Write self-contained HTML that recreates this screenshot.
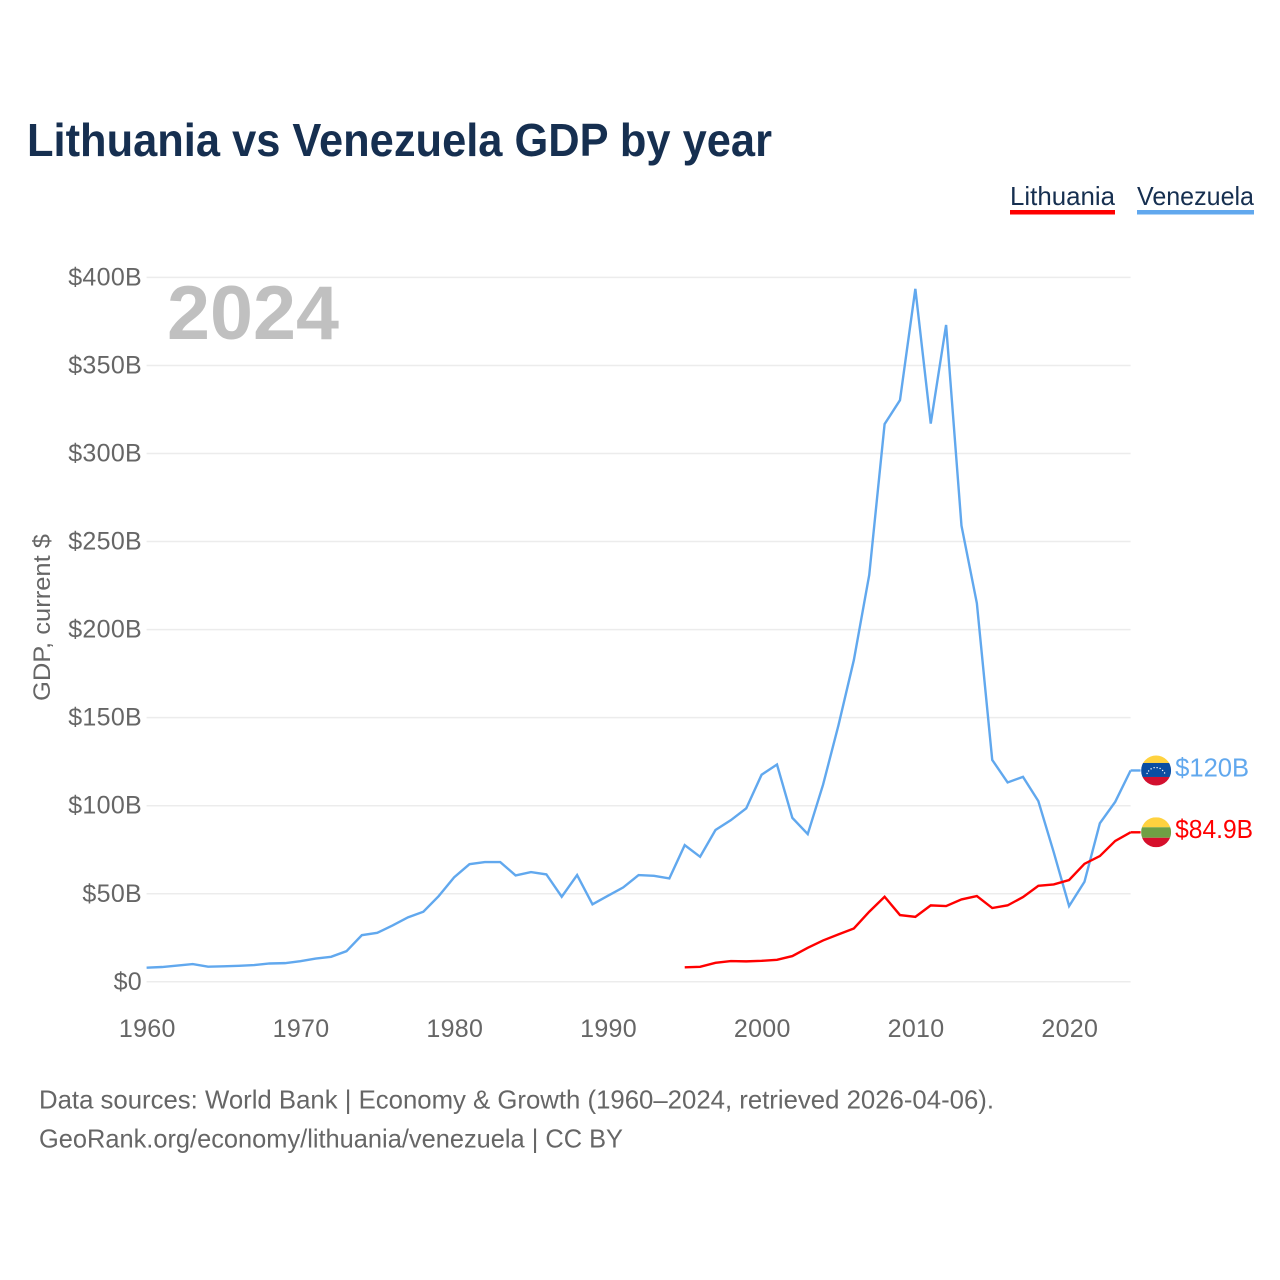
<!DOCTYPE html>
<html lang="en">
<head>
<meta charset="utf-8">
<title>Lithuania vs Venezuela GDP by year</title>
<style>
html,body{margin:0;padding:0;background:#fff;width:1280px;height:1280px;overflow:hidden}
svg{display:block}
text{font-family:"Liberation Sans",sans-serif}
.tick{font-size:25px;fill:#666;letter-spacing:.3px}
.foot{font-size:26px;fill:#666}
</style>
</head>
<body>
<svg id="chart" xmlns="http://www.w3.org/2000/svg" width="1280" height="1280" viewBox="0 0 1280 1280">
  <rect width="1280" height="1280" fill="#fff"/>
  <text x="27" y="155.8" font-size="46" font-weight="700" fill="#162f50" textLength="745" lengthAdjust="spacingAndGlyphs">Lithuania vs Venezuela GDP by year</text>

  <g>
    <g>
      <text x="1010" y="205" font-size="26" fill="#162f50" textLength="105" lengthAdjust="spacingAndGlyphs">Lithuania</text>
      <rect x="1010" y="210" width="105" height="4.5" fill="#ff0000"/>
    </g>
    <g>
      <text x="1137" y="205" font-size="26" fill="#162f50" textLength="117" lengthAdjust="spacingAndGlyphs">Venezuela</text>
      <rect x="1137" y="210" width="117" height="4.5" fill="#61a8ee"/>
    </g>
  </g>

  <g id="grid"></g>
  <g id="yticks"></g>
  <g id="xticks"></g>

  <text x="167" y="339" font-size="76" font-weight="700" fill="#c0c0c0" textLength="172" lengthAdjust="spacingAndGlyphs">2024</text>
  <text transform="translate(50,617.5) rotate(-90)" text-anchor="middle" font-size="24.5" fill="#666" textLength="167" lengthAdjust="spacingAndGlyphs">GDP, current $</text>

  <polyline id="line-venezuela" fill="none" stroke="#61a8ee" stroke-width="2.4" stroke-linejoin="miter"/>
  <polyline id="line-lithuania" fill="none" stroke="#ff0000" stroke-width="2.4" stroke-linejoin="miter"/>

  <defs>
    <clipPath id="flag-clip"><circle cx="0" cy="0" r="15"/></clipPath>
  </defs>

  <g id="end-venezuela">
    <line x1="0" x2="10" y1="0" y2="0" stroke="#61a8ee" stroke-width="2.4"/>
    <g transform="translate(25.5,0)" clip-path="url(#flag-clip)">
      <rect x="-15" y="-15" width="30" height="7.5" fill="#ffd23f"/>
      <rect x="-15" y="-7.5" width="30" height="14" fill="#0b4ea2"/>
      <rect x="-15" y="6.5" width="30" height="8.5" fill="#d2102f"/>
      <g fill="#fff">
        <circle cx="-9" cy="3" r=".7"/><circle cx="-7.5" cy=".5" r=".7"/><circle cx="-5" cy="-1.6" r=".7"/><circle cx="-2" cy="-2.8" r=".7"/><circle cx="1" cy="-2.8" r=".7"/><circle cx="4" cy="-2" r=".7"/><circle cx="6.5" cy="0" r=".7"/><circle cx="8.5" cy="2.5" r=".7"/>
      </g>
    </g>
    <text x="44.5" y="5.8" font-size="26" fill="#61a8ee" textLength="74" lengthAdjust="spacingAndGlyphs">$120B</text>
  </g>
  <g id="end-lithuania">
    <line x1="0" x2="10" y1="0" y2="0" stroke="#ff0000" stroke-width="2.4"/>
    <g transform="translate(25.5,0)" clip-path="url(#flag-clip)">
      <rect x="-15" y="-15" width="30" height="10" fill="#ffd23f"/>
      <rect x="-15" y="-5" width="30" height="10.5" fill="#6fa044"/>
      <rect x="-15" y="5.5" width="30" height="9.5" fill="#d60f2b"/>
    </g>
    <text x="44.5" y="5.8" font-size="26" fill="#ff0000" textLength="78" lengthAdjust="spacingAndGlyphs">$84.9B</text>
  </g>

  <text class="foot" x="39" y="1108.5" textLength="955" lengthAdjust="spacingAndGlyphs">Data sources: World Bank | Economy &amp; Growth (1960–2024, retrieved 2026-04-06).</text>
  <text class="foot" x="39" y="1147.5" textLength="584" lengthAdjust="spacingAndGlyphs">GeoRank.org/economy/lithuania/venezuela | CC BY</text>
</svg>
<script>
var venezuelaStartYear = 1960;
var lithuaniaStartYear = 1995;
var venezuelaValues = [8.0,8.4,9.2,10.05,8.6,8.8,9.1,9.5,10.4,10.6,11.7,13.2,14.2,17.4,26.5,27.8,32,36.6,39.8,48.7,59.3,66.8,68,68,60.4,62.3,61,48.3,60.6,44,48.8,53.6,60.6,60.2,58.7,77.6,71,86.2,91.8,98.5,117.6,123.4,93.1,83.9,112,145.7,182.7,231,316.7,330.3,393.5,317,373,259,215,126,113.2,116.4,102.6,73.6,43,56.8,90,102.2,120];
var lithuaniaValues = [8.2,8.5,10.8,11.75,11.6,11.9,12.5,14.6,19.3,23.5,26.9,30.3,39.8,48.3,37.9,36.9,43.4,43,46.8,48.7,41.9,43.4,48.1,54.5,55.3,57.8,67,71.4,80,84.9];
var yTickValues = [0,50,100,150,200,250,300,350,400];
var yTickLabels = ["$0","$50B","$100B","$150B","$200B","$250B","$300B","$350B","$400B"];
var xTickValues = [1960,1970,1980,1990,2000,2010,2020];
var xTickLabels = ["1960","1970","1980","1990","2000","2010","2020"];

var SVGNS = "http://www.w3.org/2000/svg";
function xScale(year){ return 146.6 + (year - 1960) * 15.375; }
function yScale(value){ return 981.8 - value * (981.8 - 277.4) / 400; }
function pointsFor(values, startYear){
  return values.map(function(v, i){
    return xScale(startYear + i).toFixed(2) + "," + yScale(v).toFixed(2);
  }).join(" ");
}

var gridGroup = document.getElementById("grid");
var yTickGroup = document.getElementById("yticks");
var xTickGroup = document.getElementById("xticks");

yTickValues.forEach(function(v, i){
  var line = document.createElementNS(SVGNS, "line");
  line.setAttribute("x1", xScale(1960));
  line.setAttribute("x2", xScale(2024));
  line.setAttribute("y1", yScale(v));
  line.setAttribute("y2", yScale(v));
  line.setAttribute("stroke", "#ececec");
  line.setAttribute("stroke-width", "1.5");
  
  
  gridGroup.appendChild(line);

  var label = document.createElementNS(SVGNS, "text");
  label.setAttribute("class", "tick");
  label.setAttribute("x", 142);
  label.setAttribute("y", yScale(v) + 8);
  label.setAttribute("text-anchor", "end");
  label.textContent = yTickLabels[i];
  
  
  yTickGroup.appendChild(label);
});

xTickValues.forEach(function(year, i){
  var label = document.createElementNS(SVGNS, "text");
  label.setAttribute("class", "tick");
  label.setAttribute("x", xScale(year) + 0.7);
  label.setAttribute("y", 1037);
  label.setAttribute("text-anchor", "middle");
  label.textContent = xTickLabels[i];
  
  
  xTickGroup.appendChild(label);
});

document.getElementById("line-venezuela").setAttribute("points", pointsFor(venezuelaValues, venezuelaStartYear));
document.getElementById("line-lithuania").setAttribute("points", pointsFor(lithuaniaValues, lithuaniaStartYear));

var venezuelaLast = venezuelaValues[venezuelaValues.length - 1];
var lithuaniaLast = lithuaniaValues[lithuaniaValues.length - 1];
document.getElementById("end-venezuela").setAttribute("transform", "translate(" + xScale(2024) + "," + yScale(venezuelaLast) + ")");
document.getElementById("end-lithuania").setAttribute("transform", "translate(" + xScale(2024) + "," + yScale(lithuaniaLast) + ")");
</script>
</body>
</html>
